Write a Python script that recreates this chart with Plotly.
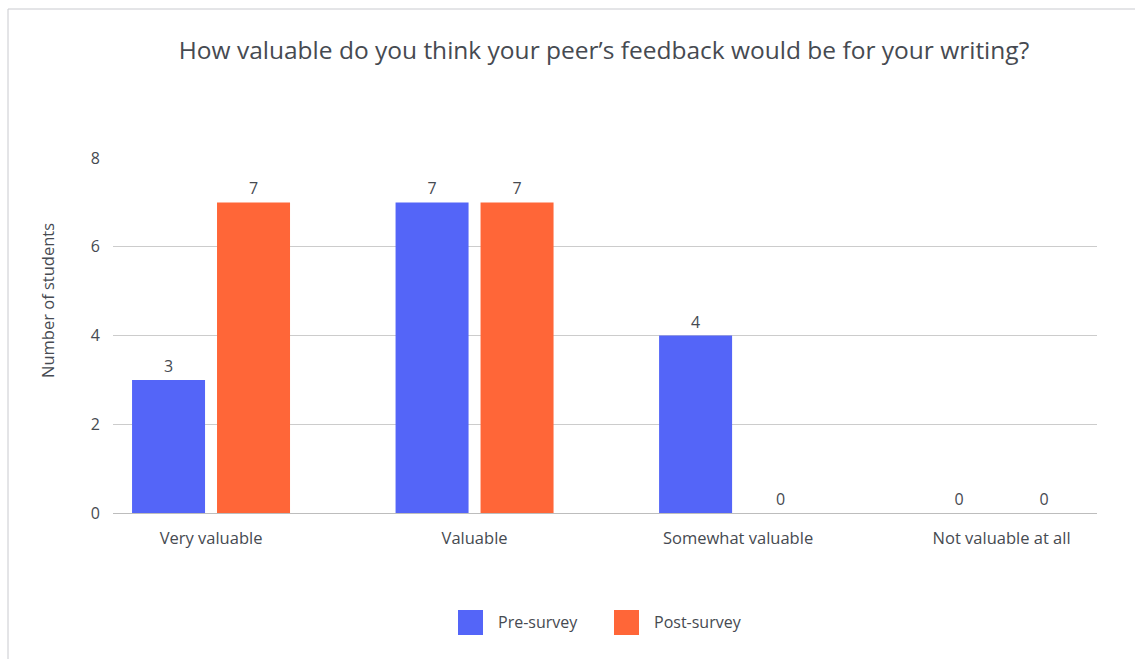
import plotly.graph_objects as go

# Survey responses
categories = ["Very valuable", "Valuable", "Somewhat valuable", "Not valuable at all"]
pre_survey = [3, 7, 4, 0]
post_survey = [7, 7, 0, 0]
series_names = ["Pre-survey", "Post-survey"]
y_ticks = [0, 2, 4, 6, 8]

BLUE = "#5465F8"
ORANGE = "#FF6638"
TEXT = "#464a51"
GRID = "#cccccc"
FONT = "Open Sans, Lato, sans-serif"

W, H = 1135, 659
L, R, T, B = 113, 38, 158, 146
pw, ph = W - L - R, H - T - B


def px_x(x):
    return (x - L) / pw


def px_y(y):
    return (H - B - y) / ph


fig = go.Figure()
for name, vals, col in [(series_names[0], pre_survey, BLUE), (series_names[1], post_survey, ORANGE)]:
    fig.add_trace(go.Bar(
        x=categories, y=vals, name=name, marker_color=col, marker_line_width=0,
        text=[str(v) for v in vals], textposition="outside", cliponaxis=False,
        textfont=dict(family=FONT, size=16, color=TEXT), showlegend=False,
    ))

shapes = [
    # outer chart border
    dict(type="rect", xref="paper", yref="paper",
         x0=px_x(8), x1=px_x(1145), y0=px_y(670), y1=px_y(9),
         line=dict(color="#c9cacf", width=1), fillcolor="rgba(0,0,0,0)", layer="below"),
]
annotations = [
    dict(text="Number of students", xref="paper", yref="paper", x=px_x(47), y=px_y(301),
         xanchor="center", yanchor="middle",
         textangle=-90, showarrow=False, font=dict(family=FONT, size=16.5, color=TEXT)),
]

# legend: coloured squares with labels
legend_items = [(series_names[0], BLUE, 458), (series_names[1], ORANGE, 614)]
for name, col, x0 in legend_items:
    shapes.append(dict(type="rect", xref="paper", yref="paper",
                       x0=px_x(x0), x1=px_x(x0 + 25), y0=px_y(635), y1=px_y(610),
                       line=dict(width=0), fillcolor=col))
    annotations.append(dict(text=name, xref="paper", yref="paper", x=px_x(x0 + 38), y=px_y(622),
                            xanchor="left", yanchor="middle", showarrow=False,
                            font=dict(family=FONT, size=16, color=TEXT)))

fig.update_layout(
    width=W, height=H,
    margin=dict(l=L, r=R, t=T, b=B),
    paper_bgcolor="white", plot_bgcolor="white",
    barmode="group", bargap=0.355, bargroupgap=0.141,
    title=dict(text="How valuable do you think your peer’s feedback would be for your writing?",
               x=604 / W, xanchor="center", y=1 - 50 / H, yanchor="middle",
               font=dict(family=FONT, size=24.5, color=TEXT)),
    font=dict(family=FONT, color=TEXT),
    shapes=shapes, annotations=annotations,
    showlegend=False,
)
fig.update_xaxes(range=[-0.372, 3.362], showgrid=False, showline=False, zeroline=False,
                 tickfont=dict(family=FONT, size=16.5, color=TEXT), ticklabelstandoff=13)
fig.update_yaxes(range=[0, 8], tickvals=y_ticks, showgrid=True, gridcolor=GRID, gridwidth=1,
                 zeroline=True, zerolinecolor="#bdbdbd", zerolinewidth=1, showline=False,
                 tickfont=dict(family=FONT, size=16, color=TEXT), ticklabelstandoff=12)

fig.write_html("out.html")
